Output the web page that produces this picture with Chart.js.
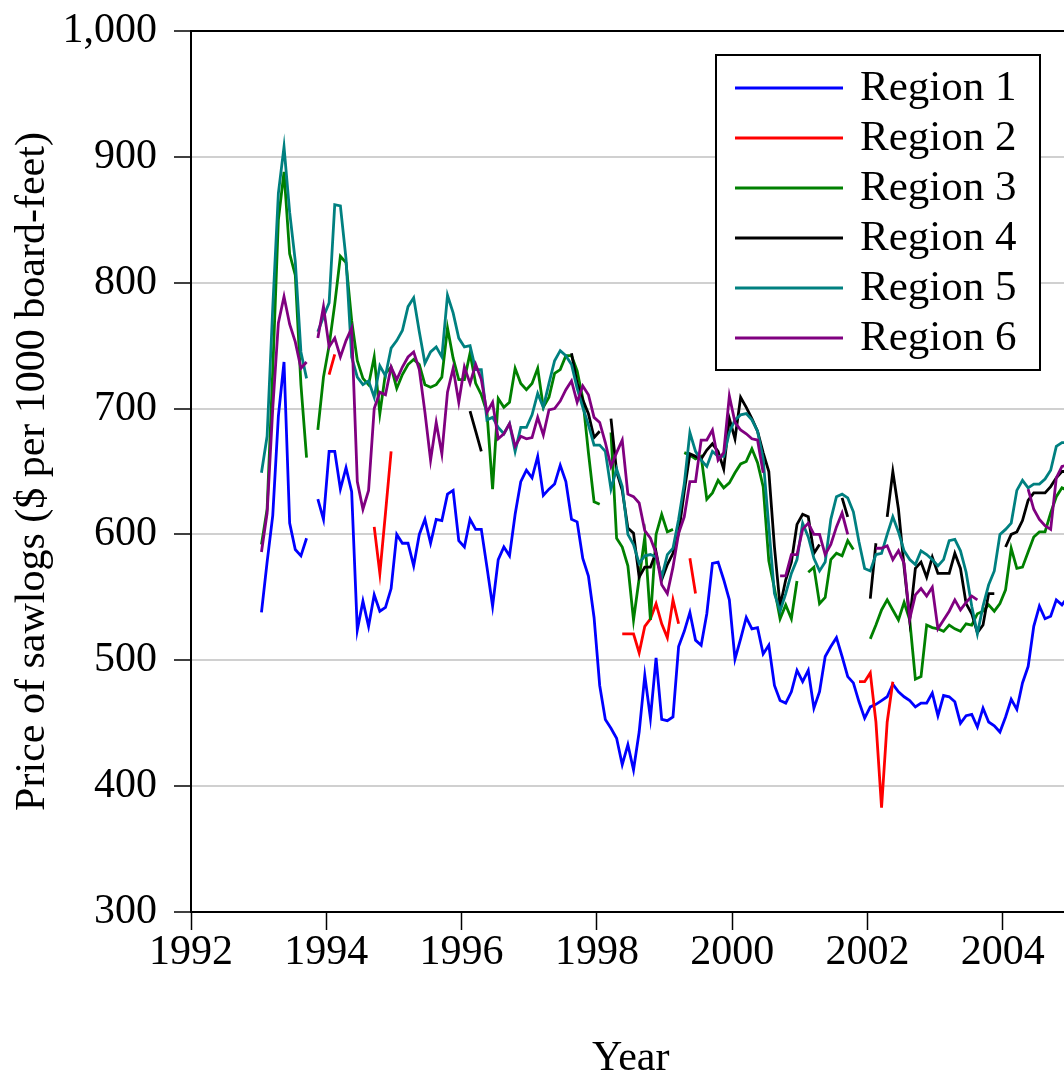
<!DOCTYPE html>
<html>
<head>
<meta charset="utf-8">
<title>Price of sawlogs</title>
<script src="https://cdn.jsdelivr.net/npm/chart.js@4.4.0/dist/chart.umd.min.js"></script>
<style>
  html, body { margin: 0; padding: 0; background: #fff; overflow: hidden; }
</style>
</head>
<body>
<canvas id="grafico" width="1076" height="1078"></canvas>
<script>
/* =========================
   DATOS - precios mensuales, ene 1993 - dic 2004
========================= */

const START_YEAR = 1993;
const YEAR_TICKS = [1992, 1994, 1996, 1998, 2000, 2002, 2004];
const PRICE_TICKS = [300, 400, 500, 600, 700, 800, 900, 1000];
const REGIONS = ["Region 1", "Region 2", "Region 3", "Region 4", "Region 5", "Region 6"];
const COLORS = ["#0000ff", "#ff0000", "#008000", "#000000", "#008080", "#800080"];

const region1 = [
  538, 578, 615, 694, 737, 609, 588, 583, 597, null, 628, 612,
  666, 666, 636, 653, 634, 524, 547, 527, 552, 539, 542, 557,
  600, 593, 593, 575, 600, 612, 593, 612, 611, 632, 635, 595,
  590, 612, 604, 604, 574, 543, 580, 590, 583, 616, 642, 651,
  645, 662, 631, 636, 640, 655, 642, 612, 610, 581, 567, 534,
  480, 453, 446, 438, 417, 433, 413, 443, 488, 454, 502, 453,
  452, 455, 511, 523, 538, 516, 512, 537, 577, 578, 564, 548,
  501, 517, 534, 525, 526, 505, 512, 480, 468, 466, 475, 492,
  483, 492, 462, 475, 503, 511, 518, 503, 487, 482, 467, 454,
  463, 465, 468, 471, 481, 475, 471, 468, 463, 466, 466, 474,
  456, 472, 471, 467, 450, 456, 457, 447, 462, 451, 448, 443,
  455, 469, 461, 482, 495, 527, 543, 533, 535, 548, 544, 550
];

const region2 = [
  null, null, null, null, null, null, null, null, null, null, null, null,
  727, 743, null, null, null, null, null, null, 606, 569, 617, 666,
  null, null, null, null, null, null, null, null, null, null, null, null,
  null, null, null, null, null, null, null, null, null, null, null, null,
  null, null, null, null, null, null, null, null, null, null, null, null,
  null, null, null, null, 521, 521, 521, 506, 527, 533, 545, 529,
  518, 548, 529, null, 581, 553, null, null, null, null, null, null,
  null, null, null, null, null, null, null, null, null, null, null, null,
  null, null, null, null, null, null, null, null, null, null, 483, 483,
  490, 451, 383, 451, 483, null, null, null, null, null, null, null,
  null, null, null, null, null, null, null, null, null, null, null, null,
  null, null, null, null, null, null, null, null, null, null, null, null
];

const region3 = [
  592, 620, 730, 850, 888, 823, 806, 719, 661, null, 683, 725,
  750, 783, 821, 816, 770, 738, 724, 719, 741, 696, 728, 733,
  716, 727, 735, 739, 735, 719, 717, 719, 725, 764, 740, 723,
  723, 744, 720, 711, 697, 636, 708, 701, 705, 732, 720, 715,
  720, 732, 701, 709, 728, 731, 742, 742, 730, 708, 665, 626,
  624, null, 681, 597, 590, 575, 532, 565, 598, 532, 600, 616,
  602, 604, null, 665, 663, 660, 662, 628, 633, 643, 637, 641,
  649, 656, 658, 668, 657, 638, 579, 557, 533, 544, 533, 563,
  null, 570, 574, 545, 550, 580, 585, 583, 595, 588, null, null,
  517, 528, 540, 548, 540, 532, 546, 532, 485, 487, 528, 526,
  525, 523, 528, 525, 523, 529, 528, 537, 539, 544, 539, 545,
  556, 589, 573, 574, 586, 598, 602, 602, 617, 630, 637, 635
];

const region4 = [
  null, null, null, null, null, null, null, null, null, null, null, null,
  null, null, null, null, null, null, null, null, null, null, null, null,
  null, null, null, null, null, null, null, null, null, null, null, null,
  null, 698, 682, 666, null, null, null, null, null, null, null, null,
  null, null, null, null, null, null, null, 744, 720, 707, 696, 677,
  682, null, 692, 650, 635, 605, 601, 566, 574, 574, 586, 564,
  576, 585, 601, 634, 664, 662, 660, 667, 672, 666, 652, 692,
  676, 709, 701, 692, 682, 665, 650, 590, 543, 564, 578, 608,
  616, 614, 585, 592, null, null, null, 629, 614, null, null, null,
  549, 593, null, 614, 650, 620, 574, 532, 573, 578, 566, 582,
  569, 569, 569, 585, 573, 545, 537, 522, 528, 553, 553, null,
  590, 600, 602, 611, 627, 633, 633, 633, 638, 645, 650, 650
];

const region5 = [
  649, 678, 780, 871, 908, 856, 817, 745, 724, null, 761, 773,
  784, 862, 861, 819, 741, 725, 719, 722, 709, 734, 726, 748,
  754, 762, 781, 788, 761, 736, 745, 749, 741, 790, 776, 756,
  749, 750, 731, 731, 691, 693, 685, 680, 688, 666, 685, 685,
  695, 712, 701, 720, 738, 746, 742, 735, 716, 701, 687, 671,
  671, 666, 636, 652, 638, 600, 592, 577, 583, 584, 582, 566,
  584, 589, 612, 640, 681, 666, 659, 654, 666, 662, 662, 681,
  691, 695, 696, 691, 682, 660, 606, 553, 539, 553, 569, 580,
  609, 598, 581, 571, 578, 612, 630, 632, 629, 618, 594, 573,
  571, 584, 585, 600, 614, 602, 587, 580, 576, 587, 584, 580,
  575, 580, 595, 596, 587, 570, 543, 521, 543, 560, 571, 600,
  604, 609, 635, 643, 637, 640, 640, 644, 651, 670, 673, 673
];

const region6 = [
  586, 617, 700, 768, 789, 767, 753, 732, 737, null, 756, 781,
  749, 756, 741, 754, 764, 642, 620, 635, 700, 713, 711, 733,
  723, 733, 741, 745, 731, 697, 659, 689, 664, 713, 732, 705,
  733, 720, 735, 723, 697, 705, 676, 680, 688, 670, 678, 676,
  677, 693, 679, 699, 700, 706, 715, 722, 705, 718, 711, 693,
  689, 673, 654, 665, 675, 632, 630, 625, 603, 597, 585, 560,
  553, 574, 601, 614, 642, 642, 675, 675, 683, 659, 665, 710,
  689, 683, 680, 676, 675, 649, null, null, 567, 567, 584, 584,
  604, 609, 600, 600, 584, 592, 606, 617, 600, null, null, null,
  null, 589, 589, 591, 580, 587, 577, 533, 552, 557, 551, 558,
  525, 532, 539, 548, 540, 546, 551, 548, null, null, null, null,
  null, null, null, null, 636, 620, 612, 607, 604, 645, 654, 655
];

const SERIES = [region1, region2, region3, region4, region5, region6];

/* =========================
   ESTILO
========================= */

const FONT = "'Liberation Serif', 'Times New Roman', serif";
const FONT_SIZE = 42;

// cada observación mensual se coloca a mitad de mes
function toPoints(values) {
  return values.map((v, i) => ({ x: START_YEAR + (i + 0.5) / 12, y: v }));
}

/* =========================
   MARCO + LEYENDA
========================= */

const frameAndLegend = {
  id: "frameAndLegend",
  afterDraw(chart) {
    const { ctx, chartArea: a } = chart;
    ctx.save();

    // borde superior y derecho del área de trazado
    ctx.strokeStyle = "#000";
    ctx.lineWidth = 2;
    ctx.beginPath();
    ctx.moveTo(a.left, a.top);
    ctx.lineTo(a.right, a.top);
    ctx.lineTo(a.right, a.bottom);
    ctx.stroke();

    // caja de la leyenda
    const bx = 716, by = 55, bw = 324, bh = 315;
    ctx.fillStyle = "#fff";
    ctx.fillRect(bx, by, bw, bh);
    ctx.strokeRect(bx, by, bw, bh);

    ctx.font = "43px " + FONT;
    ctx.textBaseline = "middle";
    ctx.textAlign = "left";

    chart.data.datasets.forEach((ds, i) => {
      const y = 88 + i * 50;
      ctx.strokeStyle = ds.borderColor;
      ctx.lineWidth = 2.8;
      ctx.beginPath();
      ctx.moveTo(735, y);
      ctx.lineTo(843, y);
      ctx.stroke();
      ctx.fillStyle = "#000";
      ctx.fillText(ds.label, 860, y + 1);
    });

    ctx.restore();
  }
};

/* =========================
   GRÁFICO
========================= */

const datasets = REGIONS.map((name, i) => ({
  label: name,
  data: toPoints(SERIES[i]),
  borderColor: COLORS[i],
  backgroundColor: COLORS[i],
  borderWidth: 2.8,
  pointRadius: 0,
  tension: 0,
  fill: false,
  spanGaps: false,
  order: REGIONS.length - i
}));

new Chart(document.getElementById("grafico"), {
  type: "line",
  data: { datasets },
  options: {
    responsive: false,
    animation: false,
    layout: { padding: { top: 31, right: 5.6, bottom: 0, left: 0 } },
    plugins: {
      legend: { display: false },
      tooltip: { enabled: false }
    },
    scales: {
      x: {
        type: "linear",
        min: 1992,
        max: 2005,
        afterBuildTicks: sc => { sc.ticks = YEAR_TICKS.map(v => ({ value: v })); },
        afterFit: sc => { sc.height = 166; },
        ticks: {
          autoSkip: false,
          maxRotation: 0,
          padding: -2,
          color: "#000",
          font: { family: FONT, size: FONT_SIZE },
          callback: v => String(v)
        },
        grid: {
          drawOnChartArea: false,
          drawTicks: true,
          tickLength: 18,
          tickColor: "#000",
          tickWidth: 1.5
        },
        border: { color: "#000", width: 2 },
        title: {
          display: true,
          text: "Year",
          color: "#000",
          font: { family: FONT, size: FONT_SIZE },
          padding: { top: 0, bottom: -6 }
        }
      },
      y: {
        min: 300,
        max: 1000,
        afterBuildTicks: sc => { sc.ticks = PRICE_TICKS.map(v => ({ value: v })); },
        // ancho fijo y sin reserva extra arriba/abajo para que el área empiece en y=31
        afterFit: sc => { sc.width = 191; sc.paddingTop = 0; sc.paddingBottom = 0; },
        ticks: {
          padding: 17,
          color: "#000",
          font: { family: FONT, size: FONT_SIZE },
          callback: v => v.toLocaleString("en-US")
        },
        grid: {
          color: c => (c.tick && (c.tick.value === 300 || c.tick.value === 1000)) ? "rgba(0,0,0,0)" : "#d0d0d0",
          lineWidth: 2,
          tickLength: 17,
          tickColor: "#000",
          tickWidth: 1.5
        },
        border: { color: "#000", width: 2 },
        title: {
          display: true,
          text: "Price of sawlogs ($ per 1000 board-feet)",
          color: "#000",
          font: { family: FONT, size: FONT_SIZE },
          padding: { top: 8, bottom: 0 }
        }
      }
    }
  },
  plugins: [frameAndLegend]
});
</script>
</body>
</html>
